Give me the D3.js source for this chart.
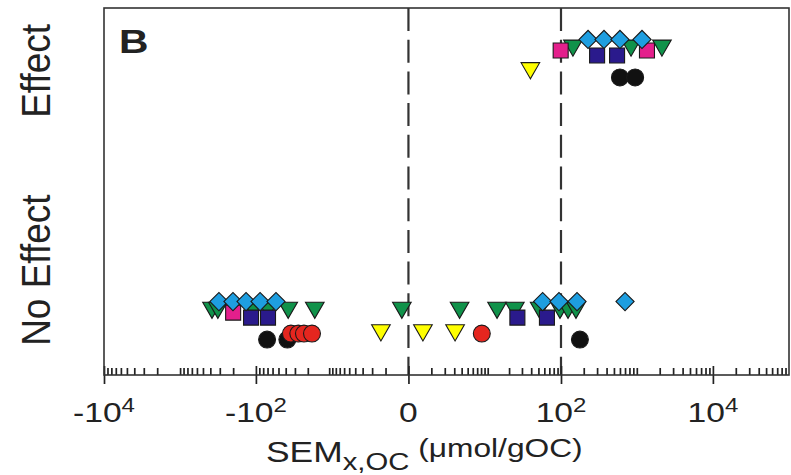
<!DOCTYPE html>
<html>
<head>
<meta charset="utf-8">
<script src="https://cdn.jsdelivr.net/npm/d3@7"></script>
<style>
  html, body { margin: 0; padding: 0; background: #fff; }
  svg { display: block; }
  text { font-family: "Liberation Sans", Arial, sans-serif; fill: #222; }
</style>
</head>
<body>
<script>
// values, units of umol/gOC
var rows = ["No Effect", "Effect"];

var blueEffect     = [228, 370, 600, 1170];
var blueNoEffect   = [-308, -201, -135, -88, -54, 57, 94, 163, 700];
var greenEffect    = [144, 840, 2140];
var greenNoEffect  = [-380, -318, -109, -69, -37, -16, -0.22, 3.7, 13.6, 24, 52, 97, 124, 158];
var magentaEffect  = [99, 1360];
var magentaNoEffect = [-200];
var navyEffect     = [300, 550];
var navyNoEffect   = [-116, -69, 26, 65];
var yellowEffect   = [39];
var yellowNoEffect = [-1.3, 0.55, 3.1];
var redEffect      = [];
var redNoEffect    = [-34, -27, -22.6, -17.5, 8.2];
var blackEffect    = [600, 950];
var blackNoEffect  = [-71, -38, 178];

var majorTicks = [-1e4, -1e2, 0, 1e2, 1e4];
var tickBase = ["-10", "-10", "0", "10", "10"];
var tickExp  = ["4", "2", "", "2", "4"];
var dashAt = [0, 100];

var width = 791, height = 475;
var plotL = 104, plotR = 789, plotT = 8, plotB = 375;
var sx = 1.2; // the picture is stretched sideways, text too

var svg = d3.select("body").append("svg")
    .attr("width", width)
    .attr("height", height);

var x = d3.scaleSymlog().constant(1)
    .domain([-1e4, 1e5])
    .range([plotL, plotR]);

var y = d3.scaleLinear()
    .domain([-0.28, 1.12])
    .range([plotB, plotT]);

// minor ticks, 1..9 in every decade
var minorTicks = [];
for (var n = 0; n <= 4; n++) {
  for (var k = 1; k <= 9; k++) {
    var v = k * Math.pow(10, n);
    if (majorTicks.indexOf(v) < 0 && v < 1e5) minorTicks.push(v);
    if (n <= 3 && majorTicks.indexOf(-v) < 0) minorTicks.push(-v);
  }
}

// dashed lines
svg.append("g").selectAll("line")
    .data(dashAt)
  .enter().append("line")
    .attr("x1", function(d) { return x(d); })
    .attr("x2", function(d) { return x(d); })
    .attr("y1", plotT)
    .attr("y2", plotB)
    .attr("stroke", "#333")
    .attr("stroke-width", 2.2)
    .attr("stroke-dasharray", "23,8.7");

// axis ticks
var axisG = svg.append("g").attr("transform", "translate(0," + plotB + ")");
axisG.append("g")
    .call(d3.axisTop(x).tickValues(minorTicks).tickSize(7).tickFormat(""));
axisG.append("g")
    .call(d3.axisTop(x).tickValues(majorTicks).tickSize(9).tickFormat(""));
axisG.append("g")
    .call(d3.axisBottom(x).tickValues(majorTicks).tickSize(9).tickFormat(""));
axisG.selectAll(".domain").remove();
axisG.selectAll(".tick line").attr("stroke", "#222").attr("stroke-width", 1.7);

// tick labels with exponents
var lab = svg.append("g").selectAll("text")
    .data(majorTicks)
  .enter().append("text")
    .attr("transform", function(d) { return "translate(" + x(d) + ",422) scale(" + sx + ",1)"; })
    .attr("text-anchor", "middle")
    .style("font-size", "28px");
lab.append("tspan").text(function(d, i) { return tickBase[i]; });
lab.append("tspan")
    .attr("dy", -10)
    .style("font-size", "20px")
    .text(function(d, i) { return tickExp[i]; });

// frame
svg.append("rect")
    .attr("x", plotL).attr("y", plotT)
    .attr("width", plotR - plotL).attr("height", plotB - plotT)
    .attr("fill", "none")
    .attr("stroke", "#333")
    .attr("stroke-width", 1.6);

// axis title
var title = svg.append("text")
    .attr("transform", "translate(266,462) scale(1.22,1)")
    .style("font-size", "29px");
title.append("tspan").text("SEM");
title.append("tspan").attr("dy", 8).style("font-size", "24px").text("x,OC");
title.append("tspan").attr("dy", -13).style("font-size", "26px").text(" (\u03bcmol/gOC)");

// row labels
svg.append("g").selectAll("text")
    .data(rows)
  .enter().append("text")
    .attr("transform", function(d, i) {
      return "translate(50," + y(i === 0 ? 0.12 : 0.88) + ") scale(1.12,1) rotate(-90)";
    })
    .attr("text-anchor", "middle")
    .style("font-size", "37px")
    .text(function(d) { return d; });

svg.append("text")
    .attr("transform", "translate(119,53) scale(" + sx + ",1)")
    .style("font-size", "34px")
    .style("font-weight", "bold")
    .text("B");

// marker series, drawn back to front
var series = [
  {fill: "#10924a", shape: d3.symbolTriangle, size: 150, rot: 180, off: -0.023, vals: [greenNoEffect, greenEffect]},
  {fill: "#e41f8c", shape: d3.symbolSquare, size: 225, rot: 0, off: -0.042, vals: [magentaNoEffect, magentaEffect]},
  {fill: "#ffff00", shape: d3.symbolTriangle, size: 150, rot: 180, off: -0.109, vals: [yellowNoEffect, yellowEffect]},
  {fill: "#2a1a8c", shape: d3.symbolSquare, size: 225, rot: 0, off: -0.061, vals: [navyNoEffect, navyEffect]},
  {fill: "#1e9ee0", shape: d3.symbolSquare, size: 165, rot: 45, off: 0, vals: [blueNoEffect, blueEffect]},
  {fill: "#111111", shape: d3.symbolCircle, size: 225, rot: 0, off: -0.145, vals: [blackNoEffect, blackEffect]},
  {fill: "#e5261f", shape: d3.symbolCircle, size: 225, rot: 0, off: -0.122, vals: [redNoEffect, redEffect]}
];

series.forEach(function(s) {
  var pts = [];
  s.vals.forEach(function(arr, row) {
    arr.forEach(function(v) { pts.push({v: v, row: row}); });
  });
  svg.append("g").selectAll("path")
      .data(pts)
    .enter().append("path")
      .attr("d", d3.symbol().type(s.shape).size(s.size))
      .attr("transform", function(d) {
        return "translate(" + x(d.v) + "," + y(d.row + s.off) + ") rotate(" + s.rot + ")";
      })
      .attr("fill", s.fill)
      .attr("stroke", "#1a1a1a")
      .attr("stroke-width", 1.1);
});
</script>
</body>
</html>
